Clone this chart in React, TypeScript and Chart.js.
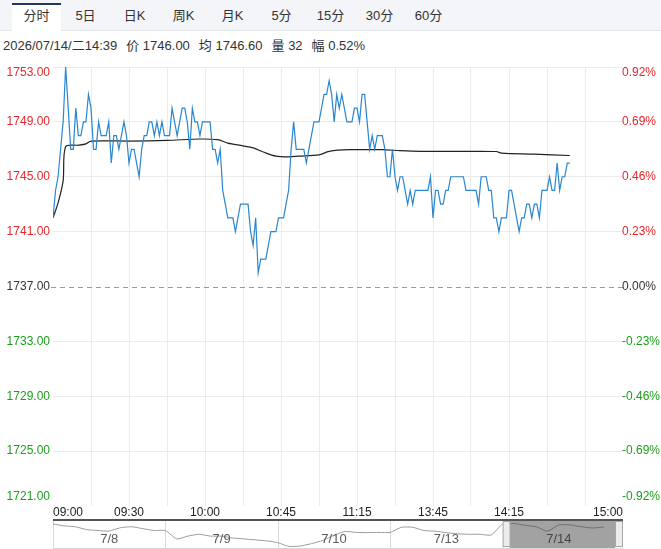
import React, { useEffect, useRef } from 'react';
import { Chart, registerables } from 'chart.js';

Chart.register(...registerables);

// ---------- data ----------
const tabs = ['分时', '5日', '日K', '周K', '月K', '5分', '15分', '30分', '60分'];
const infoTime = '2026/07/14/二14:39';
const infoLabels = ['价', '均', '量', '幅'];
const infoValues = ['1746.00', '1746.60', '32', '0.52%'];

const prevClose = 1737;
const yMin = 1721;
const yMax = 1753;
const yStep = 4;
const sessionMinutes = 225;
const gridMinutes = 15;
const xLabelMinutes = [0, 30, 60, 90, 120, 150, 180, 225];
const xLabelTexts = ['09:00', '09:30', '10:00', '10:45', '11:15', '13:45', '14:15', '15:00'];

// one price per minute from 09:00 to 14:39
const prices = [
  1742, 1744, 1745, 1747, 1749, 1753, 1750, 1747, 1747, 1750,
  1748, 1748, 1749, 1749, 1751, 1750, 1747, 1747, 1749, 1748,
  1748, 1748, 1749, 1746, 1748, 1748, 1747, 1748, 1749, 1748,
  1746, 1747, 1747, 1746, 1745, 1747, 1748, 1748, 1749, 1749,
  1748, 1749, 1748, 1749, 1748, 1748, 1748, 1750, 1749, 1748,
  1749, 1750, 1750, 1749, 1747, 1750, 1749, 1749, 1748, 1749,
  1749, 1749, 1749, 1747, 1747, 1746, 1747, 1744, 1743, 1742,
  1742, 1742, 1741, 1742, 1743, 1743, 1743, 1743, 1741, 1740,
  1742, 1738, 1739, 1739, 1739, 1740, 1741, 1741, 1741, 1742,
  1742, 1742, 1743, 1744, 1747, 1749, 1747, 1747, 1747, 1747,
  1746, 1747, 1748, 1749, 1749, 1749, 1750, 1751, 1751, 1752,
  1751, 1749, 1751, 1750, 1751, 1750, 1749, 1749, 1749, 1750,
  1750, 1749, 1751, 1751, 1749, 1747, 1748, 1747, 1748, 1748,
  1748, 1747, 1745, 1745, 1747, 1745, 1744, 1745, 1745, 1744,
  1743, 1744, 1743, 1744, 1744, 1744, 1744, 1744, 1744, 1745,
  1742, 1744, 1744, 1743, 1743, 1744, 1744, 1745, 1745, 1745,
  1745, 1745, 1745, 1744, 1744, 1744, 1744, 1744, 1743, 1745,
  1745, 1745, 1744, 1744, 1742, 1742, 1741, 1742, 1742, 1742,
  1744, 1744, 1743, 1742, 1741, 1742, 1742, 1743, 1743, 1742,
  1743, 1743, 1742, 1744, 1744, 1744, 1745, 1744, 1744, 1746,
  1744, 1745, 1745, 1746, 1746,
];

// average price line, read at these minutes
const avgMinutes = [0, 2, 4, 5, 10, 13, 15, 30, 45, 58, 65, 69, 75, 79, 83, 88, 93, 97, 105, 109, 117, 130, 137, 145, 160, 175, 177, 190, 204];
const avgValues = [
  1742.0, 1743.1, 1744.7, 1747.2, 1747.3, 1747.4, 1747.6, 1747.6, 1747.65, 1747.75,
  1747.7, 1747.45, 1747.25, 1747.1, 1746.8, 1746.5, 1746.45, 1746.5, 1746.6, 1746.85,
  1746.97, 1746.97, 1746.9, 1746.85, 1746.85, 1746.84, 1746.72, 1746.65, 1746.55,
];

// navigator (5 days overview)
const navDays = ['7/8', '7/9', '7/10', '7/13', '7/14'];
const navDay1 = [1749.7, 1746.3, 1744.7, 1739.6, 1738.0, 1737.1, 1743.0, 1744.7, 1741.3, 1738.0];
const navDay2 = [1738.0, 1723.0, 1728.0, 1731.3, 1728.0, 1728.0, 1724.6, 1723.0, 1721.3, 1719.6];
const navDay3 = [1716.3, 1709.6, 1710.4, 1714.6, 1720.4, 1729.6, 1736.3, 1734.6, 1734.3, 1734.6];
const navDay4 = [1734.6, 1743.8, 1743.8, 1738.0, 1736.8, 1734.1, 1732.1, 1731.3, 1731.3, 1730.0];
const navDay5 = [1749.7, 1750.5, 1747.2, 1744.7, 1736.8, 1748.0, 1748.0, 1744.7, 1742.5, 1744.2];
const navSeries = [navDay1, navDay2, navDay3, navDay4, navDay5];
const navYMin = 1705;
const navYMax = 1755;

// ---------- styles ----------
const FONT = '"Liberation Sans", Arial, "Noto Sans CJK SC", sans-serif';
const RED = '#e8262b';
const GREEN = '#1c9e1c';
const BLUE = '#2a87cf';

export default function App() {
  const mainRef = useRef<HTMLCanvasElement | null>(null);
  const navRef = useRef<HTMLCanvasElement | null>(null);

  useEffect(() => {
    if (!mainRef.current || !navRef.current) return;

    const mainPlugin = {
      id: 'mainDecor',
      beforeDatasetsDraw(chart: any) {
        const { ctx, chartArea } = chart;
        const y = chart.scales.y.getPixelForValue(prevClose);
        ctx.save();
        ctx.strokeStyle = '#9a9a9a';
        ctx.lineWidth = 1;
        ctx.setLineDash([5, 4]);
        ctx.beginPath();
        ctx.moveTo(chartArea.left - 2, Math.round(y) + 0.5);
        ctx.lineTo(chartArea.right, Math.round(y) + 0.5);
        ctx.stroke();
        ctx.restore();
      },
      afterDraw(chart: any) {
        const { ctx, chartArea } = chart;
        const ys = chart.scales.y;
        const xs = chart.scales.x;
        ctx.save();
        ctx.font = '12px ' + FONT;
        ctx.textBaseline = 'middle';
        ys.ticks.forEach((t: any) => {
          const v = t.value;
          let py = ys.getPixelForValue(v);
          py = Math.min(Math.max(py, chartArea.top + 6), chartArea.bottom - 9);
          ctx.fillStyle = v > prevClose ? RED : v < prevClose ? GREEN : '#333';
          ctx.textAlign = 'right';
          ctx.fillText(v.toFixed(2), chartArea.left - 3, py);
          ctx.textAlign = 'left';
          const pct = ((v - prevClose) / prevClose) * 100;
          ctx.fillText(pct.toFixed(2) + '%', chartArea.right - 1, py);
        });
        ctx.fillStyle = '#222';
        xLabelMinutes.forEach((m, i) => {
          const px = xs.getPixelForValue(m);
          ctx.textAlign = i === 0 ? 'left' : i === xLabelMinutes.length - 1 ? 'right' : 'center';
          ctx.fillText(xLabelTexts[i], px, chartArea.bottom + 7);
        });
        ctx.restore();
      },
    };

    const gridColor = (edgeValues: number[]) => (c: any) =>
      c.tick && edgeValues.includes(c.tick.value) ? 'rgba(0,0,0,0)' : '#ebebeb';

    const main = new Chart(mainRef.current, {
      type: 'line',
      data: {
        datasets: [
          {
            label: 'price',
            data: prices.map((p, i) => ({ x: i, y: p })),
            borderColor: BLUE,
            borderWidth: 1.2,
            pointRadius: 0,
            tension: 0,
          },
          {
            label: 'avg',
            data: avgMinutes.map((m, i) => ({ x: m, y: avgValues[i] })),
            borderColor: '#222',
            borderWidth: 1.2,
            pointRadius: 0,
            tension: 0.3,
          },
        ],
      },
      options: {
        animation: false,
        responsive: false,
        events: [],
        layout: { padding: { left: 53, right: 38, top: 12, bottom: 14 } },
        plugins: { legend: { display: false }, tooltip: { enabled: false } },
        scales: {
          x: {
            type: 'linear',
            min: 0,
            max: sessionMinutes,
            ticks: { display: false, stepSize: gridMinutes },
            grid: { color: gridColor([0, sessionMinutes]), drawTicks: false, lineWidth: 1 },
            border: { display: false },
          },
          y: {
            type: 'linear',
            min: yMin,
            max: yMax,
            ticks: { display: false, stepSize: yStep },
            grid: { color: gridColor([yMin, prevClose]), drawTicks: false, lineWidth: 1 },
            border: { display: false },
          },
        },
      },
      plugins: [mainPlugin],
    });

    const navPlugin = {
      id: 'navDecor',
      beforeDatasetsDraw(chart: any) {
        const { ctx, chartArea } = chart;
        const xs = chart.scales.x;
        ctx.save();
        ctx.fillStyle = '#555';
        ctx.fillRect(chartArea.left, 0, xs.getPixelForValue(navDays.length) + 8 - chartArea.left, 2);
        ctx.strokeStyle = '#d8d8d8';
        ctx.lineWidth = 1;
        for (let d = 0; d < navDays.length; d++) {
          const px = Math.round(xs.getPixelForValue(d)) + 0.5;
          ctx.beginPath();
          ctx.moveTo(px, 2);
          ctx.lineTo(px, chart.height);
          ctx.stroke();
        }
        ctx.beginPath();
        ctx.moveTo(chartArea.left, chart.height - 0.5);
        ctx.lineTo(xs.getPixelForValue(navDays.length) + 8, chart.height - 0.5);
        ctx.stroke();
        const hx0 = xs.getPixelForValue(navDays.length - 1) + 7;
        const hx1 = xs.getPixelForValue(navDays.length);
        ctx.fillStyle = '#a2a2a2';
        ctx.fillRect(hx0, 2, hx1 - hx0, chart.height - 3);
        ctx.restore();
      },
      afterDraw(chart: any) {
        const { ctx } = chart;
        const xs = chart.scales.x;
        ctx.save();
        ctx.font = '13px ' + FONT;
        ctx.textAlign = 'center';
        ctx.textBaseline = 'middle';
        navDays.forEach((d, i) => {
          ctx.fillStyle = i === navDays.length - 1 ? '#444' : '#5a5a5a';
          ctx.fillText(d, xs.getPixelForValue(i + 0.5), 20);
        });
        const h0 = xs.getPixelForValue(navDays.length - 1);
        const h1 = xs.getPixelForValue(navDays.length);
        ctx.fillStyle = '#ececec';
        ctx.strokeStyle = '#a8a8a8';
        [h0, h1].forEach((hx) => {
          ctx.fillRect(hx, 2, 7, chart.height - 4);
          ctx.strokeRect(hx + 0.5, 2.5, 7, chart.height - 5);
        });
        ctx.restore();
      },
    };

    const navData: { x: number; y: number }[] = [];
    navSeries.forEach((day, d) => {
      day.forEach((v, j) => navData.push({ x: d + j / day.length, y: v }));
    });

    const nav = new Chart(navRef.current, {
      type: 'line',
      data: {
        datasets: [
          {
            label: 'nav',
            data: navData,
            borderColor: '#9c9c9c',
            borderWidth: 1,
            pointRadius: 0,
            tension: 0.2,
            segment: {
              borderColor: (c: any) => (c.p0.parsed.x >= navDays.length - 1 ? '#707070' : '#9c9c9c'),
            },
          },
        ],
      },
      options: {
        animation: false,
        responsive: false,
        events: [],
        layout: { padding: { left: 53, right: 46, top: 2, bottom: 0 } },
        plugins: { legend: { display: false }, tooltip: { enabled: false } },
        scales: {
          x: { type: 'linear', min: 0, max: navDays.length, display: false },
          y: { type: 'linear', min: navYMin, max: navYMax, display: false },
        },
      },
      plugins: [navPlugin],
    });

    return () => {
      main.destroy();
      nav.destroy();
    };
  }, []);

  return (
    <div
      style={{
        position: 'absolute',
        top: 0,
        left: 0,
        width: 661,
        height: 549,
        overflow: 'hidden',
        background: '#fff',
        fontFamily: FONT,
      }}
    >
      <div
        style={{
          position: 'absolute',
          top: 0,
          left: 0,
          width: 661,
          height: 30,
          background: '#f3f5f8',
          borderBottom: '1px solid #e3e6eb',
        }}
      >
        {tabs.map((t, i) => (
          <div
            key={t}
            style={{
              position: 'absolute',
              left: 12 + i * 49,
              top: 3,
              width: 49,
              height: 28,
              boxSizing: 'border-box',
              borderTop: i === 0 ? '2px solid #1d3865' : '2px solid transparent',
              background: i === 0 ? '#fff' : 'transparent',
              textAlign: 'center',
              lineHeight: '22px',
              fontSize: 13,
              color: '#333',
            }}
          >
            {t}
          </div>
        ))}
      </div>
      <div
        style={{
          position: 'absolute',
          top: 38,
          left: 3,
          fontSize: 13,
          lineHeight: '16px',
          color: '#333',
          whiteSpace: 'nowrap',
        }}
      >
        <span>{infoTime}</span>
        {infoLabels.map((l, i) => (
          <span key={l} style={{ marginLeft: 9 }}>
            {l} {infoValues[i]}
          </span>
        ))}
      </div>
      <canvas
        ref={mainRef}
        width={661}
        height={465}
        style={{ position: 'absolute', top: 55, left: 0, width: 661, height: 465 }}
      />
      <canvas
        ref={navRef}
        width={661}
        height={30}
        style={{ position: 'absolute', top: 519, left: 0, width: 661, height: 30 }}
      />
    </div>
  );
}
